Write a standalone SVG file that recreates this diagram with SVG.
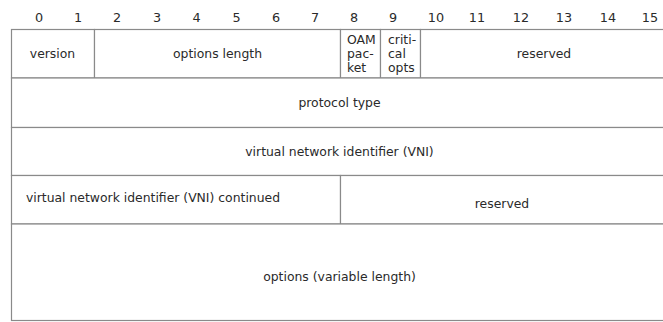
<svg xmlns="http://www.w3.org/2000/svg" width="663" height="322" viewBox="0 0 663 322">
<style>
  .f { fill: #ffffff; stroke: #8a8a8a; stroke-width: 1.2; }
  .t { font-family: "DejaVu Sans", Verdana, sans-serif; font-size: 12.4px; fill: #2a2a2a; }
  .m { text-anchor: middle; }
  .n { font-family: "DejaVu Sans", Verdana, sans-serif; font-size: 12.8px; fill: #2a2a2a; text-anchor: middle; }
</style>
<rect x="0" y="0" width="663" height="322" fill="#ffffff"/>
<g id="bit-numbers">
  <text class="n" x="39" y="22">0</text>
  <text class="n" x="78" y="22">1</text>
  <text class="n" x="117" y="22">2</text>
  <text class="n" x="157" y="22">3</text>
  <text class="n" x="196.5" y="22">4</text>
  <text class="n" x="236.5" y="22">5</text>
  <text class="n" x="276" y="22">6</text>
  <text class="n" x="315" y="22">7</text>
  <text class="n" x="354" y="22">8</text>
  <text class="n" x="393" y="22">9</text>
  <text class="n" x="436" y="22">10</text>
  <text class="n" x="477" y="22">11</text>
  <text class="n" x="521" y="22">12</text>
  <text class="n" x="564" y="22">13</text>
  <text class="n" x="608" y="22">14</text>
  <text class="n" x="650" y="22">15</text>
</g>
<g id="version">
  <rect class="f" x="11.5" y="29.5" width="83" height="48.5"/>
  <text class="t m" x="52.5" y="58">version</text>
</g>
<g id="options-length">
  <rect class="f" x="94.5" y="29.5" width="246" height="48.5"/>
  <text class="t m" x="217.5" y="58">options length</text>
</g>
<g id="oam-packet">
  <rect class="f" x="340.5" y="29.5" width="40" height="48.5"/>
  <text class="t" x="347" y="44">OAM</text>
  <text class="t" x="347" y="58">pac-</text>
  <text class="t" x="347" y="72">ket</text>
</g>
<g id="critical-opts">
  <rect class="f" x="380.5" y="29.5" width="40" height="48.5"/>
  <text class="t" x="388" y="44">criti-</text>
  <text class="t" x="388" y="58">cal</text>
  <text class="t" x="388" y="72">opts</text>
</g>
<g id="reserved-1">
  <rect class="f" x="420.5" y="29.5" width="260" height="48.5"/>
  <text class="t m" x="544" y="58">reserved</text>
</g>
<g id="protocol-type">
  <rect class="f" x="11.5" y="78" width="669" height="49.5"/>
  <text class="t m" x="339.5" y="107">protocol type</text>
</g>
<g id="vni">
  <rect class="f" x="11.5" y="127.5" width="669" height="48"/>
  <text class="t m" x="339.5" y="156">virtual network identifier (VNI)</text>
</g>
<g id="vni-continued">
  <rect class="f" x="11.5" y="175.5" width="329" height="48.5"/>
  <text class="t m" x="153" y="202">virtual network identifier (VNI) continued</text>
</g>
<g id="reserved-2">
  <rect class="f" x="340.5" y="175.5" width="340" height="48.5"/>
  <text class="t m" x="502" y="208">reserved</text>
</g>
<g id="options">
  <rect class="f" x="11.5" y="224" width="669" height="96.5"/>
  <text class="t m" x="339.5" y="281">options (variable length)</text>
</g>
<g id="connectors"></g>
</svg>
